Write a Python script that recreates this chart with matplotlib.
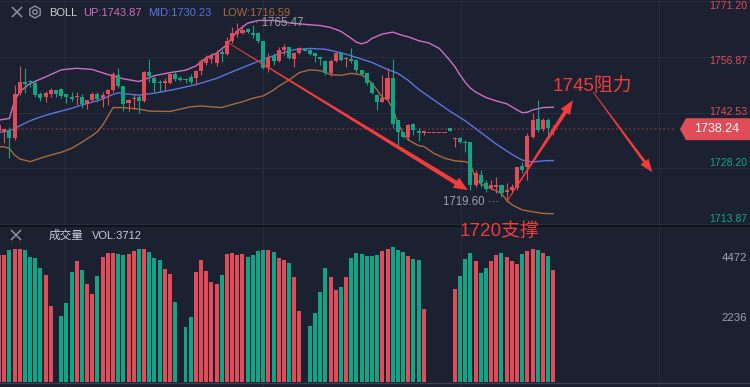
import numpy as np
import matplotlib
matplotlib.use("Agg")
import matplotlib.pyplot as plt
from matplotlib.patches import Polygon, RegularPolygon, Circle
from matplotlib.lines import Line2D
from matplotlib.transforms import IdentityTransform

plt.rcParams['font.family'] = ['Liberation Sans', 'Noto Sans CJK SC', 'DejaVu Sans']

# ---- data (1-based candle numbers for the bands) ----
opens = [1737.8, 1737.4, 1738.0, 1736.1, 1747.5, 1750.4, 1750.6, 1750.0, 1747.3, 1746.4,
         1747.3, 1748.2, 1748.6, 1747.3, 1746.4, 1746.4, 1746.5, 1744.6, 1745.8, 1747.3,
         1746.2, 1747.2, 1748.3, 1752.2, 1749.4, 1744.9, 1746.0, 1746.6, 1745.6, 1753.0,
         1751.4, 1750.5, 1750.0, 1750.0, 1752.5, 1751.3, 1751.0, 1751.6, 1751.3, 1753.1,
         1755.2, 1756.3, 1755.2, 1758.0, 1757.6, 1760.9, 1762.6, 1763.0, 1764.0, 1763.1,
         1763.1, 1760.8, 1753.9, 1757.1, 1755.9, 1758.7, 1759.3, 1756.2, 1757.8, 1758.8,
         1758.6, 1757.8, 1756.7, 1755.9, 1752.8, 1755.9, 1757.8, 1756.2, 1756.2, 1756.0,
         1753.5, 1752.6, 1750.2, 1747.0, 1745.3, 1745.9, 1751.3, 1740.6, 1737.4, 1736.3,
         1739.5, 1737.8, 1737.2, 1737.2, 1737.2, 1737.2, 1737.2, 1738.5, 1735.6, 1735.9,
         1735.0, 1734.9, 1723.9, 1726.5, 1724.3, 1723.0, 1723.5, 1723.9, 1722.2, 1722.6,
         1723.0, 1728.8, 1728.6, 1736.3, 1740.8, 1738.2, 1740.6, 1737.6]
highs = [1739.8, 1738.4, 1738.9, 1749.6, 1754.5, 1754.1, 1750.9, 1750.7, 1747.7, 1748.1,
         1748.8, 1748.3, 1748.9, 1747.4, 1747.7, 1747.7, 1747.3, 1745.8, 1747.7, 1747.9,
         1747.7, 1748.6, 1752.9, 1754.1, 1749.4, 1746.0, 1747.2, 1747.0, 1753.3, 1756.2,
         1751.8, 1750.8, 1751.3, 1752.6, 1753.0, 1751.8, 1751.3, 1752.4, 1753.4, 1756.3,
         1757.3, 1757.8, 1758.6, 1758.8, 1762.0, 1764.6, 1765.47, 1765.0, 1764.2, 1765.0,
         1763.3, 1760.8, 1757.8, 1757.9, 1759.4, 1760.2, 1759.4, 1758.0, 1759.3, 1759.0,
         1758.8, 1757.9, 1756.8, 1756.0, 1756.2, 1758.2, 1758.0, 1756.7, 1759.2, 1756.0,
         1753.5, 1752.8, 1750.5, 1747.2, 1752.2, 1753.9, 1756.2, 1740.6, 1737.6, 1739.5,
         1739.8, 1738.5, 1737.9, 1737.2, 1737.2, 1737.2, 1737.2, 1738.6, 1736.3, 1736.3,
         1735.5, 1735.0, 1727.7, 1727.7, 1725.3, 1725.3, 1725.9, 1724.0, 1724.3, 1724.2,
         1728.6, 1729.9, 1737.2, 1742.3, 1745.7, 1741.0, 1741.0, 1739.2]
lows = [1737.4, 1734.8, 1730.9, 1735.5, 1747.0, 1747.5, 1749.2, 1746.6, 1745.5, 1745.3,
        1746.6, 1746.6, 1746.2, 1744.9, 1745.5, 1744.5, 1743.8, 1743.4, 1745.5, 1745.2,
        1744.0, 1744.5, 1747.9, 1748.9, 1742.9, 1742.9, 1743.4, 1742.3, 1745.3, 1750.3,
        1747.9, 1747.9, 1748.2, 1749.9, 1750.7, 1750.6, 1750.2, 1749.8, 1749.6, 1752.2,
        1754.8, 1755.2, 1754.5, 1755.6, 1757.3, 1760.3, 1762.0, 1762.6, 1762.9, 1761.8,
        1760.3, 1753.6, 1753.0, 1754.7, 1755.4, 1757.3, 1756.2, 1754.3, 1757.6, 1758.3,
        1757.3, 1755.6, 1754.8, 1752.2, 1751.9, 1755.5, 1755.7, 1754.3, 1755.2, 1752.6,
        1752.0, 1749.6, 1747.2, 1743.2, 1745.2, 1745.7, 1738.5, 1733.8, 1736.0, 1735.5,
        1736.8, 1735.3, 1736.8, 1737.2, 1737.2, 1737.2, 1737.2, 1737.9, 1733.6, 1734.6,
        1732.5, 1722.6, 1723.5, 1723.5, 1722.2, 1722.6, 1721.8, 1720.9, 1719.6, 1721.8,
        1722.6, 1726.9, 1725.2, 1735.9, 1737.6, 1737.8, 1736.8, 1736.7]
closes = [1739.4, 1738.2, 1735.9, 1747.3, 1750.5, 1749.9, 1750.3, 1747.0, 1746.3, 1747.5,
          1748.2, 1747.2, 1746.8, 1746.4, 1746.1, 1746.6, 1744.6, 1745.7, 1747.4, 1746.0,
          1747.0, 1748.3, 1752.4, 1749.4, 1744.6, 1745.8, 1746.3, 1745.6, 1753.0, 1751.8,
          1750.0, 1750.1, 1750.6, 1752.5, 1751.2, 1751.0, 1750.8, 1750.5, 1753.2, 1755.8,
          1756.5, 1757.0, 1757.8, 1757.5, 1761.0, 1763.0, 1763.6, 1763.8, 1763.3, 1762.5,
          1760.8, 1753.9, 1756.7, 1755.8, 1758.6, 1759.4, 1756.5, 1757.9, 1759.0, 1758.4,
          1757.6, 1757.1, 1756.3, 1752.8, 1755.9, 1757.9, 1756.0, 1756.6, 1755.9, 1753.5,
          1752.4, 1750.0, 1747.5, 1745.3, 1746.2, 1751.3, 1739.7, 1737.4, 1736.3, 1739.3,
          1738.1, 1737.2, 1737.8, 1737.2, 1737.2, 1737.2, 1737.2, 1737.9, 1736.0, 1734.9,
          1734.7, 1723.9, 1726.9, 1724.3, 1722.8, 1723.9, 1723.9, 1721.8, 1722.6, 1723.5,
          1728.6, 1727.8, 1736.5, 1740.6, 1738.0, 1740.6, 1738.5, 1738.24]
volumes = [4794, 4794, 4982, 5020, 5020, 4982, 4719, 4681, 4305, 4041,
           2874, 25, 2497, 2987, 4154, 4568, 4229, 3702, 3326, 4003,
           4719, 4869, 4869, 4832, 4794, 4832, 4945, 5020, 5020, 4907,
           4681, 4606, 4267, 4079, 3025, 25, 2083, 2460, 4154, 4606,
           4192, 3778, 3702, 4041, 4832, 4869, 4794, 4832, 4719, 4794,
           4945, 4982, 4982, 4907, 4681, 4606, 4493, 3953, 2686, 25,
           2121, 2610, 3401, 4305, 3966, 3476, 3589, 3966, 4681, 4869,
           4832, 4756, 4756, 4794, 4945, 5020, 5095, 4982, 4907, 4756,
           4644, 4606, 2761, 0, 0, 0, 0, 25, 3514, 4003,
           4644, 4869, 4568, 4116, 4305, 4568, 4794, 4869, 4719, 4568,
           4455, 4832, 4945, 5020, 4982, 4869, 4756, 4229]

up_at = [1, 3, 4, 5, 7, 10, 13, 16, 19, 22, 25, 28, 31, 34, 37, 39, 41, 43, 45, 47, 49, 51,
         54, 57, 60, 63, 65, 67, 69, 70, 71, 72, 73, 75, 77, 79, 80, 82, 84, 86, 87, 88, 89,
         90, 91, 92, 93, 95, 97, 99, 101, 102, 103, 104, 106, 108]
up_vals = [1740.6, 1741.0, 1745.5, 1747.9, 1750.0, 1751.7, 1753.5, 1753.9, 1753.6, 1752.3,
           1751.2, 1750.5, 1752.0, 1752.8, 1753.4, 1754.5, 1756.6, 1757.8, 1760.0, 1763.5,
           1765.5, 1766.2, 1766.2, 1765.6, 1765.2, 1764.9, 1764.4, 1763.4, 1761.6, 1760.6,
           1760.2, 1760.6, 1761.6, 1762.7, 1763.2, 1762.3, 1762.0, 1761.0, 1760.4, 1759.0,
           1757.5, 1756.0, 1754.3, 1752.2, 1750.3, 1748.8, 1747.8, 1746.4, 1745.5, 1744.8,
           1743.2, 1742.5, 1742.6, 1743.2, 1743.8, 1743.9]
mid_at = [1, 3, 5, 7, 9, 11, 13, 15, 17, 19, 21, 23, 24, 25, 28, 31, 35, 39, 43, 46, 49,
          52, 55, 58, 61, 64, 67, 70, 73, 76, 78, 80, 82, 85, 88, 91, 94, 97, 100, 102,
          104, 106, 108]
mid_vals = [1737.4, 1737.8, 1739.1, 1740.4, 1741.4, 1742.2, 1742.9, 1743.6, 1744.5, 1745.2,
            1746.0, 1747.2, 1747.6, 1747.4, 1747.0, 1747.5, 1748.5, 1749.7, 1751.3, 1753.0,
            1754.6, 1756.2, 1757.6, 1758.7, 1759.0, 1758.8, 1757.9, 1756.7, 1755.4, 1753.6,
            1752.6, 1750.8, 1748.5, 1745.7, 1742.9, 1740.4, 1737.4, 1734.4, 1731.8, 1730.3,
            1729.8, 1730.1, 1730.2]
low_at = [1, 2, 3, 4, 5, 7, 9, 11, 13, 15, 17, 19, 20, 21, 22, 23, 25, 28, 30, 34, 36, 38,
          40, 42, 44, 46, 48, 50, 52, 54, 55, 57, 59, 61, 63, 65, 67, 69, 71, 72, 73, 74,
          75, 76, 77, 78, 79, 80, 82, 83, 85, 87, 89, 91, 92, 93, 94, 96, 98, 99, 100, 102,
          104, 106, 108]
low_vals = [1733.75, 1733.7, 1733.3, 1731.6, 1730.6, 1729.9, 1730.8, 1731.6, 1732.3, 1733.3,
            1734.9, 1736.6, 1737.6, 1739.3, 1741.5, 1743.8, 1743.8, 1743.4, 1742.9, 1742.8,
            1743.4, 1744.0, 1744.2, 1744.0, 1743.8, 1744.6, 1745.3, 1746.2, 1746.8, 1748.3,
            1749.3, 1750.9, 1752.8, 1753.5, 1753.3, 1752.3, 1752.1, 1752.6, 1752.2, 1751.3,
            1750.0, 1748.3, 1746.4, 1745.8, 1743.6, 1739.8, 1737.2, 1735.5, 1734.0, 1733.8,
            1732.0, 1730.8, 1730.1, 1729.9, 1729.3, 1725.6, 1724.1, 1723.0, 1721.7, 1720.0,
            1718.8, 1717.5, 1717.0, 1716.6, 1716.5]

price_ticks = [1771.20, 1756.87, 1742.53, 1728.20, 1713.87]
vol_ticks = [4472, 2236]
last_price = 1738.24
boll_up, boll_mid, boll_low = 1743.87, 1730.23, 1716.59
vol_last = 3712
high_mark, low_mark = 1765.47, 1719.60

# ---- style ----
W, H = 750, 387
BG = '#1b2130'
GRID = '#262e3d'
RED = '#e04c58'
GREEN = '#12a485'
PINK = '#cf6fc0'
BLUE = '#5a74de'
BROWN = '#a86a3c'
ARROW = '#f03c3c'
ICON = '#8c929e'
TXT = '#c8ccd4'
AXTXT = '#9ba1ab'

fig = plt.figure(figsize=(W / 100, H / 100), dpi=100, facecolor=BG)

# candle i sits at pixel -0.98 + 5.18*i
x0, x1 = 0.98 / 5.18, (W + 0.98) / 5.18
main_h = 225
ax = fig.add_axes([0, 1 - main_h / H, 1, main_h / H])
ax.set_xlim(x0, x1)
ax.set_ylim(1713.61, 1771.46)
ax.axis('off')

axv = fig.add_axes([0, 0, 1, (H - 226) / H])
axv.set_xlim(x0, x1)
axv.set_ylim(-177, 5883)
axv.axis('off')

o = np.array(opens)
c = np.array(closes)
hi = np.array(highs)
lo = np.array(lows)
x = np.arange(len(o))
cols = np.where(c >= o, RED, GREEN)

# grid
for t in price_ticks:
    ax.axhline(t, color=GRID, lw=0.8, zorder=0)
for gx in (65, 263, 461, 659):
    xi = (gx + 0.98) / 5.18
    ax.axvline(xi, color=GRID, lw=0.8, zorder=0)
    axv.axvline(xi, color=GRID, lw=0.8, zorder=0)

# bollinger bands
ax.plot(np.array(up_at) - 1, up_vals, color=PINK, lw=1.0, zorder=2)
ax.plot(np.array(mid_at) - 1, mid_vals, color=BLUE, lw=1.0, zorder=2)
ax.plot(np.array(low_at) - 1, low_vals, color=BROWN, lw=1.0, zorder=2)

# current price dotted line
ax.plot([x0, (675 + 0.98) / 5.18], [last_price, last_price], color='#6a3340',
        lw=1.1, dashes=(1.4, 1.4), zorder=1)

# candles
ax.vlines(x, lo, hi, colors=cols, lw=0.8, zorder=3)
body = np.maximum(np.abs(c - o), 0.28)
ax.bar(x, body, bottom=np.minimum(o, c), width=0.78, color=cols, lw=0, zorder=4)

# volume
axv.bar(x, volumes, width=0.77, color=cols, lw=0, zorder=2)
axv.axhline(-30, color='#3a4252', lw=0.9)

# panel separator
fig.add_artist(Line2D([0, W], [H - 225.5, H - 225.5], color='#0e1118', lw=1.2,
                      transform=IdentityTransform()))

# right axis labels
offs = [-4.5, -4.5, 0.5, 5, 5]
for t, dy in zip(price_ticks, offs):
    y = ax.transData.transform((0, t))[1] + dy
    fig.text(747 / W, y / H, f'{t:.2f}', ha='right', va='center', fontsize=7.6,
             color=RED if t > last_price else GREEN)
for t in vol_ticks:
    y = axv.transData.transform((0, t))[1] + 5
    fig.text(747 / W, y / H, str(t), ha='right', va='center', fontsize=8.2, color=AXTXT)

# last price tag
yc = ax.transData.transform((0, last_price))[1]
tag = [(680, yc), (686, yc + 11), (W, yc + 11), (W, yc - 11), (686, yc - 11)]
fig.add_artist(Polygon(tag, closed=True, fc=RED, ec='none', transform=IdentityTransform()))
fig.text(717 / W, yc / H, f'{last_price:.2f}', ha='center', va='center', fontsize=9,
         color='white')

# header rows
def cross(cx, cy, r=4.5):
    for s in (1, -1):
        fig.add_artist(Line2D([cx - r, cx + r], [H - cy - s * r, H - cy + s * r],
                              color=ICON, lw=1.1, transform=IdentityTransform()))

cross(17, 12)
fig.add_artist(RegularPolygon((35, H - 12), 6, radius=6, orientation=0, fill=False,
                              ec=ICON, lw=1.0, transform=IdentityTransform()))
fig.add_artist(Circle((35, H - 12), 2.2, fill=False, ec=ICON, lw=1.0,
                      transform=IdentityTransform()))
hy = 1 - 12.5 / H
fig.text(49 / W, hy, 'BOLL', fontsize=8, color=TXT, va='center')
fig.text(83 / W, hy, f'UP:{boll_up:.2f}', fontsize=8, color=PINK, va='center')
fig.text(148 / W, hy, f'MID:{boll_mid:.2f}', fontsize=8, color=BLUE, va='center')
fig.text(222 / W, hy, f'LOW:{boll_low:.2f}', fontsize=8, color=BROWN, va='center')

cross(16, 235)
vy = 1 - 236 / H
fig.text(49 / W, vy, '成交量', fontsize=8.4, color=TXT, va='center')
fig.text(92 / W, vy, f'VOL:{vol_last}', fontsize=8, color=TXT, va='center')

# high / low markers
ih = int(np.argmax(hi))
il = int(np.argmin(lo))
ax.text(ih + 2.6, high_mark, f'·· {high_mark:.2f}', fontsize=8.3, color=AXTXT,
        va='center', ha='left', zorder=5)
ax.text(il - 1.5, low_mark, f'{low_mark:.2f} ···', fontsize=8.3, color=AXTXT,
        va='center', ha='right', zorder=5)

# tapered arrows (start/end in candle index, price)
def taper_arrow(p0, p1, w0, w1, hl, hw):
    a = ax.transData.transform(p0)
    b = ax.transData.transform(p1)
    d = b - a
    u = d / np.hypot(*d)
    n = np.array([-u[1], u[0]])
    m = b - u * hl
    pts = [a + n * w0 / 2, m + n * w1 / 2, m + n * hw / 2, b,
           m - n * hw / 2, m - n * w1 / 2, a - n * w0 / 2]
    fig.add_artist(Polygon(pts, closed=True, fc=ARROW, ec='none',
                           transform=IdentityTransform(), zorder=6))

taper_arrow((44.0, 1760.66), (90.5, 1722.6), 0.8, 4.5, 14, 12)
taper_arrow((98.0, 1719.6), (110.8, 1745.7), 0.8, 4.0, 14, 11)
taper_arrow((114.7, 1747.8), (126.1, 1727.2), 0.8, 3.0, 13, 10)

fig.text(553 / W, 1 - 86 / H, '1745阻力', fontsize=13.6, color=ARROW, va='center')
fig.text(460 / W, 1 - 231 / H, '1720支撑', fontsize=13.6, color=ARROW, va='center')

fig.savefig('out.png', dpi=100, facecolor=BG)
